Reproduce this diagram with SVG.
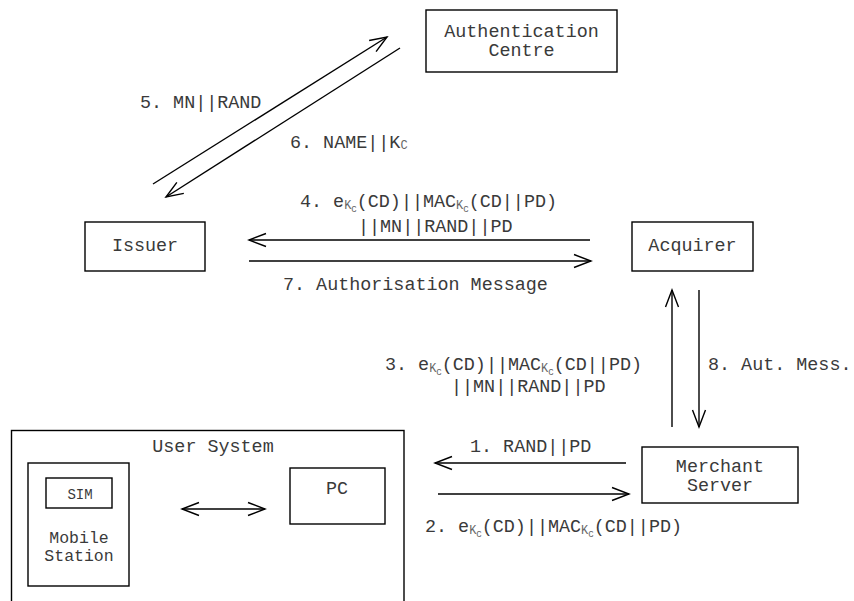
<svg xmlns="http://www.w3.org/2000/svg" width="854" height="601" viewBox="0 0 854 601">
  <style>
    .box { fill: #fff; stroke: #000; stroke-width: 1.4; }
    .conn { fill: none; stroke: #000; stroke-width: 1.4; }
    text { font-family: "Liberation Mono", "Courier New", monospace; font-size: 18.4px; fill: #3a3a3a; }
    .mid { text-anchor: middle; }
    .sm { font-size: 16.5px; }
    .xs { font-size: 14px; }
    .sub1 { font-size: 12px; fill: #666; }
    .sub2 { font-size: 9px; fill: #666; }
  </style>
  <defs>
    <marker id="head" markerUnits="userSpaceOnUse" markerWidth="24" markerHeight="20" refX="0" refY="0" viewBox="-18 -10 20 20" orient="auto-start-reverse" overflow="visible">
      <path d="M -17 -6.5 L 0 0 L -17 6.5" fill="none" stroke="#000" stroke-width="1.4"/>
    </marker>
  </defs>

  <rect width="854" height="601" fill="#fff"/>

  <!-- Nodes -->
  <g id="authentication-centre">
    <rect class="box" x="426" y="10" width="191" height="62"/>
    <text class="mid" x="521.5" y="37">Authentication</text>
    <text class="mid" x="521.5" y="56">Centre</text>
  </g>

  <g id="issuer">
    <rect class="box" x="85" y="222" width="120" height="49"/>
    <text class="mid" x="145" y="251">Issuer</text>
  </g>

  <g id="acquirer">
    <rect class="box" x="632" y="222" width="121" height="49"/>
    <text class="mid" x="692.5" y="251">Acquirer</text>
  </g>

  <g id="merchant-server">
    <rect class="box" x="642" y="447" width="156" height="56"/>
    <text class="mid" x="720" y="472">Merchant</text>
    <text class="mid" x="720" y="491">Server</text>
  </g>

  <g id="user-system">
    <rect class="box" x="11.5" y="430.5" width="392.5" height="190"/>
    <text class="mid" x="213" y="452">User System</text>
  </g>

  <g id="mobile-station">
    <rect class="box" x="28" y="463" width="101" height="123"/>
    <text class="mid sm" x="79" y="543">Mobile</text>
    <text class="mid sm" x="79" y="561">Station</text>
  </g>

  <g id="sim">
    <rect class="box" x="46" y="478" width="66" height="30"/>
    <text class="mid xs" x="80" y="499">SIM</text>
  </g>

  <g id="pc">
    <rect class="box" x="290" y="468" width="95" height="56"/>
    <text class="mid" x="337" y="494">PC</text>
  </g>

  <!-- Connectors -->
  <g id="connectors">
    <line class="conn" x1="153" y1="184" x2="387" y2="37" marker-end="url(#head)"/>
    <line class="conn" x1="400" y1="48" x2="166" y2="197" marker-end="url(#head)"/>
    <line class="conn" x1="590" y1="240" x2="249" y2="240" marker-end="url(#head)"/>
    <line class="conn" x1="249" y1="261" x2="591" y2="261" marker-end="url(#head)"/>
    <line class="conn" x1="672" y1="427" x2="672" y2="290" marker-end="url(#head)"/>
    <line class="conn" x1="699" y1="290" x2="699" y2="427" marker-end="url(#head)"/>
    <line class="conn" x1="626" y1="463" x2="435" y2="463" marker-end="url(#head)"/>
    <line class="conn" x1="438" y1="494" x2="629" y2="494" marker-end="url(#head)"/>
    <line class="conn" x1="182" y1="509" x2="265" y2="509" marker-start="url(#head)" marker-end="url(#head)"/>
  </g>

  <!-- Message labels -->
  <g id="labels">
    <text x="140" y="108">5. MN||RAND</text>
    <text x="290" y="148">6. NAME||K<tspan class="sub1" dy="1">C</tspan></text>

    <text x="300" y="207">4. e<tspan class="sub1" dy="2">K</tspan><tspan class="sub2" dy="3">C</tspan><tspan dy="-5">(CD)||MAC</tspan><tspan class="sub1" dy="2">K</tspan><tspan class="sub2" dy="3">C</tspan><tspan dy="-5">(CD||PD)</tspan></text>
    <text x="358" y="232">||MN||RAND||PD</text>

    <text x="283" y="290">7. Authorisation Message</text>

    <text x="385" y="370">3. e<tspan class="sub1" dy="2">K</tspan><tspan class="sub2" dy="3">C</tspan><tspan dy="-5">(CD)||MAC</tspan><tspan class="sub1" dy="2">K</tspan><tspan class="sub2" dy="3">C</tspan><tspan dy="-5">(CD||PD)</tspan></text>
    <text x="451" y="392">||MN||RAND||PD</text>

    <text x="708" y="370">8. Aut. Mess.</text>

    <text x="470" y="452">1. RAND||PD</text>
    <text x="425" y="532">2. e<tspan class="sub1" dy="2">K</tspan><tspan class="sub2" dy="3">C</tspan><tspan dy="-5">(CD)||MAC</tspan><tspan class="sub1" dy="2">K</tspan><tspan class="sub2" dy="3">C</tspan><tspan dy="-5">(CD||PD)</tspan></text>
  </g>
</svg>
